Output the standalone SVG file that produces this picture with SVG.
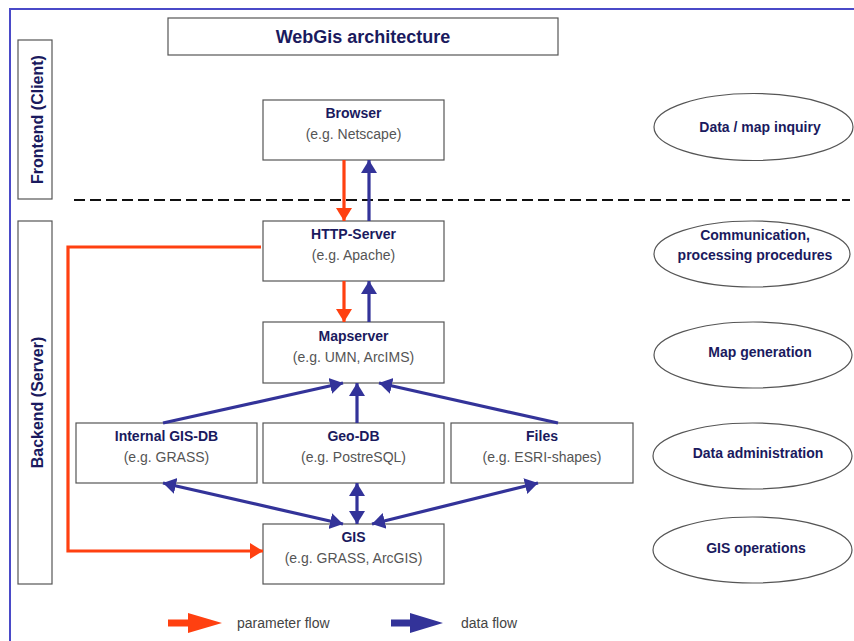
<svg xmlns="http://www.w3.org/2000/svg" width="854" height="641" viewBox="0 0 854 641">
<style>
.box{fill:#fff;stroke:#555;stroke-width:1.2}
.ell{fill:#fff;stroke:#555;stroke-width:1.2}
.lbl{font-family:"Liberation Sans",Arial,sans-serif;font-weight:bold;font-size:14px;fill:#1a1a5e;text-anchor:middle}
.sub{font-family:"Liberation Sans",Arial,sans-serif;font-size:14px;fill:#555;text-anchor:middle}
.side{font-family:"Liberation Sans",Arial,sans-serif;font-weight:bold;font-size:16px;fill:#1a1a5e;text-anchor:middle}
.red{stroke:#ff4010;stroke-width:3.2;fill:none}
.blue{stroke:#333399;stroke-width:3.2;fill:none}
.leg{font-family:"Liberation Sans",Arial,sans-serif;font-size:14px;fill:#444}
</style>
<defs>
<marker id="ar" markerUnits="userSpaceOnUse" markerWidth="18" markerHeight="18" refX="13" refY="9" orient="auto-start-reverse" viewBox="0 0 18 18">
<path d="M0,1 L13,9 L0,17 Z" fill="#ff4010"/>
</marker>
<marker id="ab" markerUnits="userSpaceOnUse" markerWidth="18" markerHeight="18" refX="13" refY="9" orient="auto-start-reverse" viewBox="0 0 18 18">
<path d="M0,1 L13,9 L0,17 Z" fill="#333399"/>
</marker>
</defs>
<rect x="0" y="0" width="854" height="641" fill="#fff"/>
<rect x="10" y="9" width="870" height="660" fill="none" stroke="#4a4ac8" stroke-width="2"/>

<g id="title">
<rect class="box" x="168" y="18" width="390" height="37"/>
<text class="lbl" x="363" y="43" style="font-size:18px">WebGis architecture</text>
</g>
<g id="frontend-label">
<rect class="box" x="18" y="40" width="34" height="159"/>
<text class="side" transform="translate(42.5,119.5) rotate(-90)">Frontend (Client)</text>
</g>
<g id="backend-label">
<rect class="box" x="18" y="221" width="34" height="363"/>
<text class="side" transform="translate(42.5,402.5) rotate(-90)">Backend (Server)</text>
</g>

<g id="divider">
<line x1="74" y1="200" x2="850" y2="200" stroke="#111" stroke-width="2" stroke-dasharray="11,5"/>
</g>

<g id="browser">
<rect class="box" x="263" y="100" width="181" height="60"/>
<text class="lbl" x="353.5" y="118">Browser</text>
<text class="sub" x="353.5" y="139">(e.g. Netscape)</text>
</g>
<g id="http-server">
<rect class="box" x="263" y="221" width="181" height="60"/>
<text class="lbl" x="353.5" y="239">HTTP-Server</text>
<text class="sub" x="353.5" y="260">(e.g. Apache)</text>
</g>
<g id="mapserver">
<rect class="box" x="263" y="322" width="181" height="61"/>
<text class="lbl" x="353.5" y="341">Mapserver</text>
<text class="sub" x="353.5" y="362">(e.g. UMN, ArcIMS)</text>
</g>
<g id="internal-gis-db">
<rect class="box" x="76" y="423" width="181" height="60"/>
<text class="lbl" x="166.5" y="441">Internal GIS-DB</text>
<text class="sub" x="166.5" y="462">(e.g. GRASS)</text>
</g>
<g id="geo-db">
<rect class="box" x="263" y="423" width="181" height="60"/>
<text class="lbl" x="353.5" y="441">Geo-DB</text>
<text class="sub" x="353.5" y="462">(e.g. PostreSQL)</text>
</g>
<g id="files">
<rect class="box" x="451" y="423" width="182" height="60"/>
<text class="lbl" x="542" y="441">Files</text>
<text class="sub" x="542" y="462">(e.g. ESRI-shapes)</text>
</g>
<g id="gis">
<rect class="box" x="263" y="524" width="181" height="60"/>
<text class="lbl" x="353.5" y="542">GIS</text>
<text class="sub" x="353.5" y="563">(e.g. GRASS, ArcGIS)</text>
</g>

<g id="ell-inquiry">
<ellipse class="ell" cx="753.5" cy="127" rx="99.5" ry="33.5"/>
<text class="lbl" x="760" y="132">Data / map inquiry</text>
</g>
<g id="ell-communication">
<ellipse class="ell" cx="752" cy="254" rx="98" ry="33"/>
<text class="lbl" x="755" y="240">Communication,</text>
<text class="lbl" x="755" y="260">processing procedures</text>
</g>
<g id="ell-mapgen">
<ellipse class="ell" cx="753" cy="355" rx="99" ry="33"/>
<text class="lbl" x="760" y="357">Map generation</text>
</g>
<g id="ell-dataadmin">
<ellipse class="ell" cx="752.5" cy="456" rx="99.5" ry="33"/>
<text class="lbl" x="758" y="458">Data administration</text>
</g>
<g id="ell-gisops">
<ellipse class="ell" cx="752.5" cy="550" rx="99.5" ry="33"/>
<text class="lbl" x="756" y="553">GIS operations</text>
</g>

<g id="connectors">
<line class="red" x1="344" y1="160" x2="344" y2="221" marker-end="url(#ar)"/>
<line class="blue" x1="369" y1="221" x2="369" y2="160" marker-end="url(#ab)"/>
<line class="red" x1="344" y1="281" x2="344" y2="322" marker-end="url(#ar)"/>
<line class="blue" x1="369" y1="322" x2="369" y2="281" marker-end="url(#ab)"/>
<polyline class="red" points="261,247 68,247 68,551 263,551" marker-end="url(#ar)"/>
<line class="blue" x1="163" y1="423" x2="343" y2="383" marker-end="url(#ab)"/>
<line class="blue" x1="357" y1="423" x2="357" y2="383" marker-end="url(#ab)"/>
<line class="blue" x1="558" y1="423" x2="379" y2="383" marker-end="url(#ab)"/>
<line class="blue" x1="163" y1="483" x2="343" y2="524" marker-start="url(#ab)" marker-end="url(#ab)"/>
<line class="blue" x1="357" y1="483" x2="357" y2="524" marker-start="url(#ab)" marker-end="url(#ab)"/>
<line class="blue" x1="538" y1="483" x2="372" y2="524" marker-start="url(#ab)" marker-end="url(#ab)"/>
</g>

<g id="legend">
<path d="M168,619.5 L188,619.5 L188,613 L222,623 L188,633 L188,626.5 L168,626.5 Z" fill="#ff4010"/>
<text class="leg" x="237" y="628">parameter flow</text>
<path d="M391,619.5 L410,619.5 L410,613 L443,623 L410,633 L410,626.5 L391,626.5 Z" fill="#333399"/>
<text class="leg" x="461" y="628">data flow</text>
</g>
</svg>
